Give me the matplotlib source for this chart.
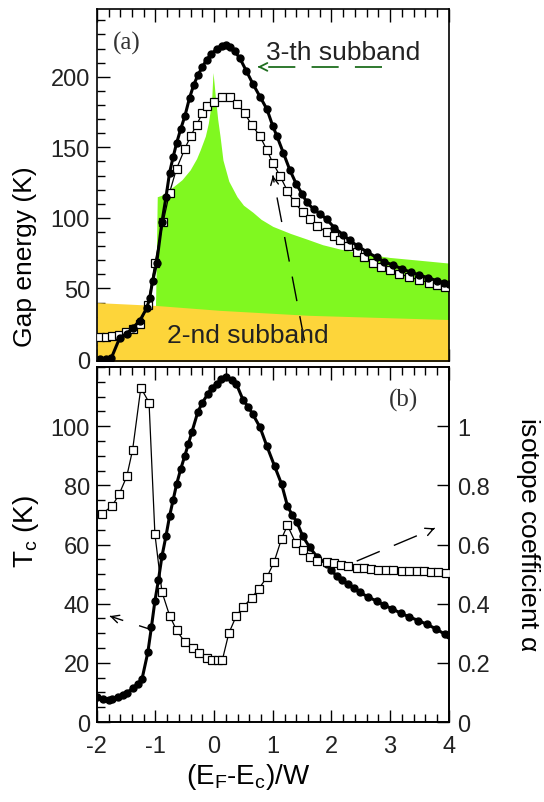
"""Gap energy and Tc / isotope coefficient versus (E_F - E_c)/W."""

import matplotlib

matplotlib.use("Agg")

import matplotlib.pyplot as plt
from matplotlib.ticker import FormatStrFormatter, MultipleLocator

plt.rcParams["font.family"] = ["Liberation Sans", "DejaVu Sans"]
plt.rcParams["axes.unicode_minus"] = False
plt.rcParams["mathtext.fontset"] = "custom"
plt.rcParams["mathtext.rm"] = "Liberation Sans"
plt.rcParams["mathtext.it"] = "Liberation Sans"

# ---- panel (a): gap energies (K) ----
gap3_x = [-1.95, -1.85, -1.75, -1.61, -1.49, -1.39, -1.27, -1.15, -1.1, -1.05,
          -0.98, -0.89, -0.82, -0.76, -0.7, -0.64, -0.57, -0.5, -0.42, -0.35,
          -0.28, -0.2, -0.13, -0.05, 0.05, 0.13, 0.2, 0.27, 0.35, 0.44, 0.55,
          0.66, 0.78, 0.9, 1.0, 1.07, 1.18, 1.29, 1.4, 1.5, 1.58, 1.7, 1.8,
          1.92, 2.05, 2.2, 2.31, 2.45, 2.6, 2.77, 2.9, 3.05, 3.2, 3.35, 3.5,
          3.65, 3.8, 3.92, 4.0]
gap3_y = [0, 0, 1, 15, 18, 22, 27, 36, 43, 55, 68, 97, 115, 132, 143, 153,
          163, 172, 185, 194, 201, 207, 212, 216, 220, 222, 222.5, 221, 218,
          213, 204, 195, 186, 177, 165, 158, 146, 134, 124, 117, 111, 106, 103,
          99, 93, 88, 84, 80, 76, 72, 69, 66.5, 64, 61.5, 59.5, 57.5, 55.5, 54,
          53]

gap_sq_x = [-1.95, -1.85, -1.74, -1.62, -1.5, -1.39, -1.27, -1.13, -1.01, -0.87,
            -0.76, -0.64, -0.5, -0.4, -0.3, -0.2, -0.13, -0.01, 0.13, 0.27,
            0.39, 0.52, 0.64, 0.78, 0.9, 1.0, 1.12, 1.25, 1.37, 1.51, 1.63,
            1.76, 1.92, 2.04, 2.14, 2.28, 2.43, 2.56, 2.7, 2.85, 2.99, 3.15,
            3.33, 3.5, 3.67, 3.8, 3.93]
gap_sq_y = [15.5, 15.5, 16, 17, 19, 21, 25, 38, 68, 97, 118, 135, 149, 158,
            166, 174, 179, 182, 186, 186, 181, 174, 166, 158, 148, 139, 130,
            119, 111, 104, 99, 94, 90, 87, 84, 80, 76, 72, 68, 65.5, 63, 60.5,
            58, 56, 54, 52.5, 51]

green_x = [-1.0, -0.99, -0.97, -0.9, -0.8, -0.7, -0.55, -0.41, -0.3, -0.24,
           -0.15, -0.1, -0.06, -0.04, -0.02, 0.0, 0.02, 0.06, 0.1, 0.15, 0.25,
           0.39, 0.5, 0.66, 0.8, 1.0, 1.3, 1.58, 1.85, 2.14, 2.5, 2.99, 3.5,
           4.0]
green_top = [38, 60, 115, 116, 119, 122, 127, 134, 142, 148, 158, 167, 178,
             186, 203, 195, 186, 170, 158, 141, 126, 115, 109, 104, 99, 94, 89,
             85, 81, 78, 75, 72, 70, 68]

yellow_x = [-2.0, -1.0, 0.1, 1.6, 4.0]
yellow_top = [40, 38, 34.5, 31, 28]

# ---- panel (b): Tc (K) and isotope coefficient ----
tc_x = [-2.0, -1.9, -1.8, -1.74, -1.64, -1.55, -1.49, -1.39, -1.3, -1.23,
        -1.13, -1.07, -1.01, -0.95, -0.89, -0.82, -0.76, -0.7, -0.64, -0.57,
        -0.5, -0.44, -0.38, -0.28, -0.2, -0.11, -0.04, 0.04, 0.12, 0.21, 0.3,
        0.38, 0.49, 0.58, 0.66, 0.78, 0.9, 1.03, 1.15, 1.25, 1.33, 1.41, 1.51,
        1.63, 1.76, 1.92, 2.0, 2.09, 2.18, 2.28, 2.38, 2.48, 2.62, 2.77, 2.9,
        3.04, 3.18, 3.33, 3.48, 3.62, 3.78, 3.93, 4.0]
tc_y = [8.4, 7.7, 7.6, 7.7, 8.5, 9.3, 9.8, 11.4, 13, 14.5, 23.6, 32, 40.9, 48,
        56, 63, 69.6, 75, 80.4, 85.5, 90, 94, 98, 104.7, 108, 110.8, 113,
        114.2, 115.8, 116.5, 115.5, 114.2, 109, 106.5, 104, 99.7, 93.2, 86.5,
        80.4, 73, 70, 67.6, 62.8, 59, 55.7, 53.4, 51.3, 49.3, 48, 46.6, 45.2,
        43.9, 42.3, 40.9, 39.5, 38.2, 36.8, 35.5, 34.3, 33.1, 31.5, 29.7, 29.3]

alpha_x = [-1.92, -1.74, -1.62, -1.49, -1.39, -1.25, -1.11, -1.01, -0.89,
           -0.76, -0.64, -0.5, -0.36, -0.25, -0.13, -0.03, 0.07, 0.14, 0.25,
           0.38, 0.5, 0.64, 0.76, 0.9, 1.02, 1.15, 1.25, 1.39, 1.51, 1.63,
           1.76, 1.92, 2.04, 2.17, 2.29, 2.43, 2.55, 2.68, 2.8, 2.93, 3.05,
           3.2, 3.33, 3.45, 3.57, 3.7, 3.82, 3.95]
alpha_y = [0.703, 0.73, 0.77, 0.83, 0.92, 1.13, 1.08, 0.635, 0.44, 0.36, 0.31,
           0.27, 0.25, 0.233, 0.216, 0.21, 0.21, 0.21, 0.30, 0.36, 0.39, 0.42,
           0.45, 0.49, 0.54, 0.62, 0.665, 0.605, 0.58, 0.557, 0.544, 0.54,
           0.537, 0.53, 0.527, 0.52, 0.52, 0.518, 0.515, 0.515, 0.513, 0.512,
           0.51, 0.51, 0.51, 0.508, 0.507, 0.505]

x_ticks = [-2, -1, 0, 1, 2, 3, 4]

GREEN = "#80f820"
YELLOW = "#fdd53a"
TEXT = "#222222"


def style_axis(ax, minor_y):
    ax.set_xlim(-2, 4)
    ax.set_xticks(x_ticks)
    ax.xaxis.set_minor_locator(MultipleLocator(0.2))
    ax.yaxis.set_minor_locator(MultipleLocator(minor_y))
    ax.tick_params(which="both", direction="in", top=True, right=False,
                   labelsize=17, labelcolor=TEXT, width=1.0)
    ax.tick_params(which="major", length=9)
    ax.tick_params(which="minor", length=6)
    ax.tick_params(axis="x", pad=9)
    ax.tick_params(axis="y", pad=5)
    for spine in ax.spines.values():
        spine.set_linewidth(1.2)


def dashed_arrow(ax, tail, head, color, lw, dashes):
    ax.plot([tail[0], head[0]], [tail[1], head[1]], color=color, lw=lw,
            linestyle=(0, dashes), zorder=6)
    dx = (head[0] - tail[0]) * 0.02
    dy = (head[1] - tail[1]) * 0.02
    ax.annotate("", xy=head, xytext=(head[0] - dx, head[1] - dy),
                arrowprops=dict(arrowstyle="->", color=color, lw=lw,
                                mutation_scale=14), zorder=6)


fig = plt.figure(figsize=(5.44, 8.03), dpi=100)
ax_a = fig.add_axes([0.178, 0.549, 0.647, 0.4385])
ax_b = fig.add_axes([0.178, 0.0996, 0.647, 0.4421])

# panel (a)
ax_a.fill_between(green_x, 0, green_top, color=GREEN, lw=0, zorder=1)
ax_a.fill_between(yellow_x, -5, yellow_top, color=YELLOW, lw=0, zorder=2)
ax_a.plot(gap3_x, gap3_y, "-o", color="black", lw=2.2, ms=5, zorder=4)
ax_a.plot(gap_sq_x, gap_sq_y, "-s", color="black", lw=0.9, ms=5.5,
          mfc="white", mew=0.9, zorder=3)
ax_a.set_ylim(-1.5, 248)
ax_a.set_yticks([0, 50, 100, 150, 200])
style_axis(ax_a, 10)
ax_a.tick_params(labelbottom=False)
ax_a.text(0.085, 0.906, "(a)", transform=ax_a.transAxes, ha="center",
          va="center", fontsize=18, family="Liberation Serif", color="#333333")
ax_a.text(0.70, 0.858, "3-th subband", transform=ax_a.transAxes,
          ha="center", va="baseline", fontsize=19, color=TEXT, zorder=7)
ax_a.text(0.43, 0.054, "2-nd subband", transform=ax_a.transAxes,
          ha="center", va="baseline", fontsize=19, color=TEXT, zorder=7)
dashed_arrow(ax_a, (2.86, 207), (0.74, 207), "#1f6e1f", 1.3, (15, 9))
dashed_arrow(ax_a, (1.54, 13), (1.0, 130), "black", 1.0, (18, 11))
ax_a.text(-0.205, 0.30, "Gap energy (K)", transform=ax_a.transAxes,
          rotation=90, ha="center", va="center", fontsize=19, color="black")

# panel (b)
ax_b.plot(tc_x, tc_y, "-o", color="black", lw=2.2, ms=5, zorder=4)
ax_b.set_ylim(0, 120)
ax_b.set_yticks([0, 20, 40, 60, 80, 100])
style_axis(ax_b, 5)

ax_r = ax_b.twinx()
ax_r.plot(alpha_x, alpha_y, "-s", color="black", lw=0.9, ms=5.5,
          mfc="white", mew=0.9, zorder=3)
ax_r.set_ylim(0, 1.2)
ax_r.set_yticks([0, 0.2, 0.4, 0.6, 0.8, 1.0])
ax_r.yaxis.set_major_formatter(FormatStrFormatter("%g"))
ax_r.tick_params(axis="y", direction="in", length=9, width=1.0, pad=6,
                 labelsize=17, labelcolor=TEXT)
ax_r.tick_params(axis="y", which="minor", right=False)
for spine in ax_r.spines.values():
    spine.set_linewidth(1.2)

dashed_arrow(ax_b, (-1.10, 31.4), (-1.78, 35.8), "black", 1.0, (8, 12))
dashed_arrow(ax_b, (2.43, 54.4), (3.76, 65.5), "black", 1.0, (18, 11))
ax_b.text(0.872, 0.91, "(b)", transform=ax_b.transAxes, ha="center",
          va="center", fontsize=18, family="Liberation Serif", color="#333333")

ax_b.text(-0.20, 0.54, r"T$_\mathrm{c}$ (K)", transform=ax_b.transAxes,
          rotation=90, ha="center", va="center", fontsize=20)
ax_b.text(1.224, 0.532, r"isotope coefficient $\alpha$",
          transform=ax_b.transAxes, rotation=270, ha="center", va="center",
          fontsize=19)
ax_b.text(0.43, -0.152, r"(E$_\mathrm{F}$-E$_\mathrm{c}$)/W",
          transform=ax_b.transAxes, ha="center", va="center", fontsize=20)

fig.savefig("out.png", dpi=100)
plt.close(fig)
